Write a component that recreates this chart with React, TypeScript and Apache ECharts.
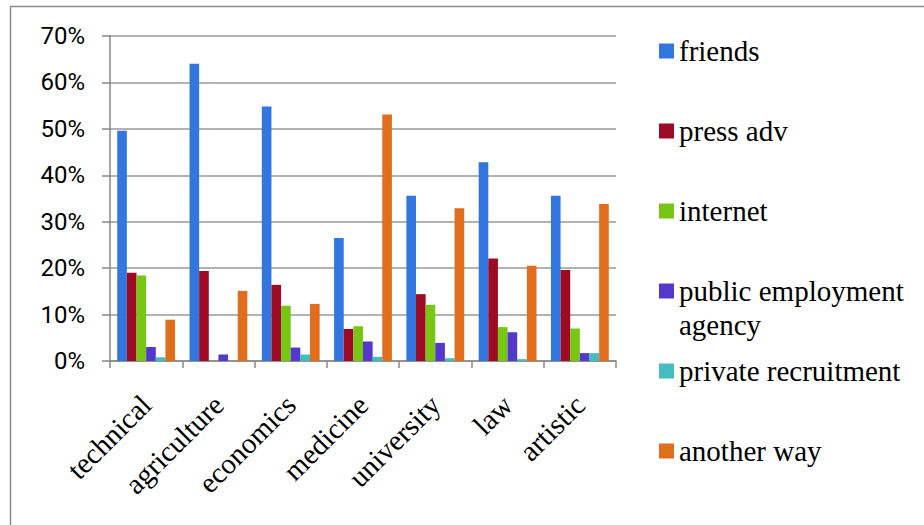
import React, { useEffect, useRef } from "react";
import * as echarts from "echarts";

const categories = ["technical", "agriculture", "economics", "medicine", "university", "law", "artistic"];
const friends = [49.6, 64.0, 54.8, 26.5, 35.6, 42.8, 35.6];
const pressAdv = [19.0, 19.4, 16.4, 6.9, 14.4, 22.1, 19.6];
const internet = [18.4, 0, 11.9, 7.5, 12.1, 7.3, 7.0];
const publicAgency = [3.0, 1.4, 2.9, 4.2, 3.9, 6.2, 1.7];
const privateRecruit = [0.8, 0, 1.4, 0.9, 0.6, 0.4, 1.7];
const anotherWay = [8.9, 15.1, 12.3, 53.1, 32.9, 20.5, 33.8];

const seriesNames = ["friends", "press adv", "internet", "public employment agency", "private recruitment", "another way"];
const seriesData = [friends, pressAdv, internet, publicAgency, privateRecruit, anotherWay];
const colors = ["#3476DF", "#9C0A23", "#78C614", "#5438CE", "#43BDBF", "#E06E1D"];
const legendTops = [34, 114, 194, 240, 354, 434];

export default function App() {
  const ref = useRef<HTMLDivElement>(null);
  useEffect(() => {
    if (!ref.current) return;
    const chart = echarts.init(ref.current, null, { renderer: "svg" });
    const serif = "Liberation Serif";
    const legends = seriesNames.map((name, i) => {
      const isPublic = name === "public employment agency";
      return {
        show: true,
        orient: "vertical",
        left: 659,
        top: legendTops[i],
        padding: 0,
        itemGap: 0,
        itemWidth: 15,
        itemHeight: 15,
        icon: "rect",
        selectedMode: false,
        data: [name],
        formatter: isPublic ? () => "\npublic employment\nagency" : undefined,
        textStyle: {
          fontFamily: serif,
          fontSize: 29,
          color: "#000",
          lineHeight: 34,
        },
      };
    });
    chart.setOption({
      animation: false,
      backgroundColor: "#fff",
      color: colors,
      graphic: [
        {
          type: "rect",
          z: -1,
          shape: { x: 10.5, y: 6.5, width: 1000, height: 600 },
          style: { fill: "none", stroke: "#8c8c8c", lineWidth: 1.5 },
        },
      ],
      legend: legends,
      grid: { left: 110, right: 308, top: 36, bottom: 164, containLabel: false },
      xAxis: {
        type: "category",
        data: categories,
        axisLine: { lineStyle: { color: "#888", width: 1.5 } },
        axisTick: { show: true, length: 7, lineStyle: { color: "#888", width: 1.5 } },
        axisLabel: {
          interval: 0,
          rotate: 45,
          align: "right",
          verticalAlign: "middle",
          lineHeight: 26,
          margin: 39,
          fontFamily: serif,
          fontSize: 29,
          color: "#000",
        },
      },
      yAxis: {
        type: "value",
        min: 0,
        max: 70,
        interval: 10,
        axisLine: { show: true, lineStyle: { color: "#888", width: 1.5 } },
        axisTick: { show: true, length: 8, lineStyle: { color: "#888", width: 1.5 } },
        splitLine: { lineStyle: { color: "#999", width: 1.5 } },
        axisLabel: {
          formatter: "{value}%",
          margin: 25,
          fontFamily: "Roboto",
          fontSize: 24,
          color: "#000",
        },
      },
      series: seriesNames.map((name, i) => ({
        name,
        type: "bar",
        data: seriesData[i],
        barGap: "0%",
        barCategoryGap: "20%",
        itemStyle: { color: colors[i] },
      })),
    });
    return () => chart.dispose();
  }, []);
  return (
    <div
      ref={ref}
      style={{ position: "fixed", left: 0, top: 0, width: 924, height: 525, background: "#fff" }}
    />
  );
}
